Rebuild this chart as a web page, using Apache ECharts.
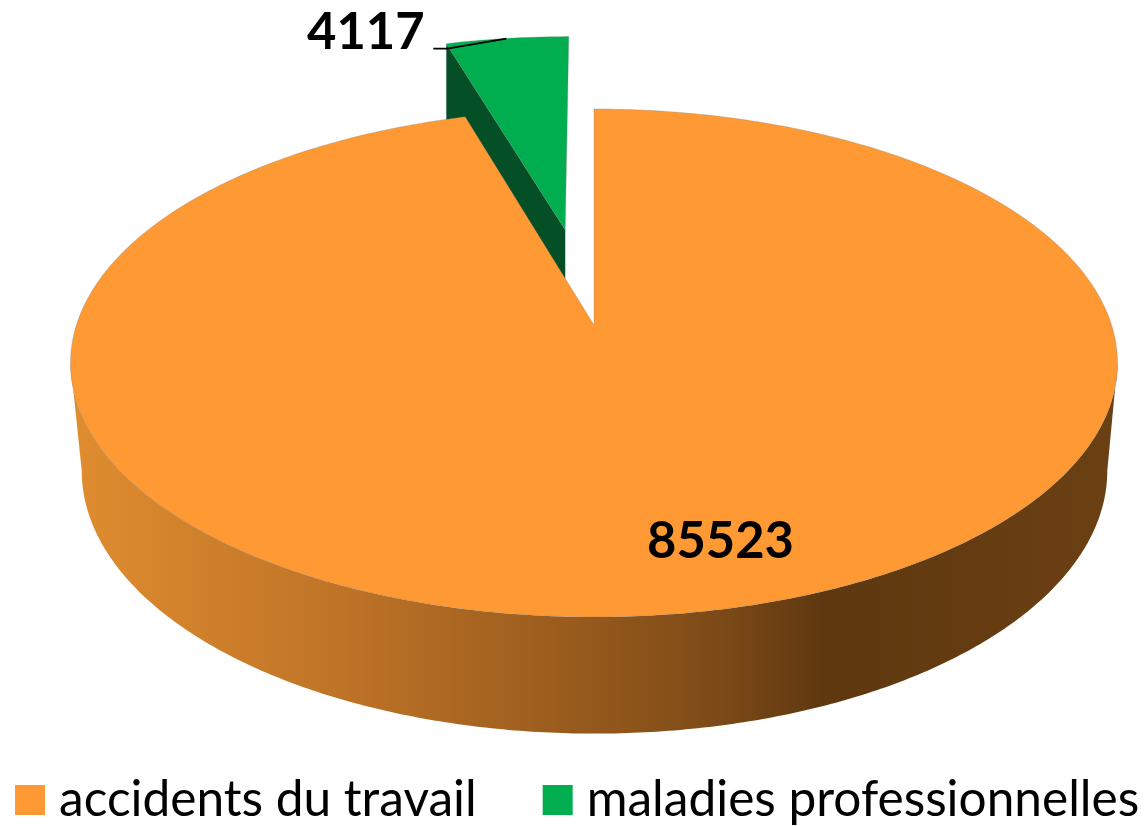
<!DOCTYPE html>
<html>
<head>
<meta charset="utf-8">
<title>accidents du travail / maladies professionnelles</title>
<script src="https://cdn.jsdelivr.net/npm/echarts@6/dist/echarts.min.js"></script>
<style>
  html, body { margin: 0; padding: 0; background: #fff; }
  #main { width: 1148px; height: 826px; }
</style>
</head>
<body>
<div id="main"></div>
<script>
const categories = ["accidents du travail", "maladies professionnelles"];
const values = [85523, 4117];
const explode = [0, 0.41];
const colors = ["#ff9933", "#00ae4f"];
const sideColor = "#054f26";

const total = values[0] + values[1];
const fontName = "Lato, 'Open Sans', sans-serif";

// le disque en perspective : haut et bas du cylindre
const topDisc = { cx: 594, cy: 325, w: 517.6, h: 248.3, k: 0.1496 };
const botDisc = { cx: 594.5, cy: 431.5, w: 507, h: 256.9, k: 0.1496 };

function project(disc, a, r, off) {
  // a = angle horaire depuis midi, off = decalage eclate dans le plan
  const u = r * Math.sin(a) + off[0];
  const v = r * Math.cos(a) + off[1];
  const d = 1 + disc.k * v;
  return [disc.cx + disc.w * u / d, disc.cy - disc.h * v / d];
}

function sliceAngles(idx) {
  // la premiere part commence a midi, sens horaire
  let start = 0;
  for (let i = 0; i < idx; i++) start += values[i] / total * Math.PI * 2;
  return [start, start + values[idx] / total * Math.PI * 2];
}

function arc(disc, a0, a1, off) {
  const pts = [];
  const n = Math.max(2, Math.ceil(Math.abs(a1 - a0) / 0.01));
  for (let i = 0; i <= n; i++) {
    pts.push(project(disc, a0 + (a1 - a0) * i / n, 1, off));
  }
  return pts;
}

function valueLabel(x, y, val) {
  return {
    type: "text",
    x: x,
    y: y,
    scaleX: 0.975,
    style: {
      text: String(val), fill: "#000",
      font: "bold 52px " + fontName, textAlign: "left", textVerticalAlign: "bottom"
    }
  };
}

function renderOrange(params, api) {
  const ang = sliceAngles(0);
  const off = [0, 0];
  const right = Math.acos(-topDisc.k);
  const left = Math.PI * 2 - right;
  const side = arc(topDisc, right, left, off).concat(arc(botDisc, left, right, off));
  const top = [project(topDisc, 0, 0, off)].concat(arc(topDisc, ang[0], ang[1], off));
  return {
    type: "group",
    children: [
      {
        type: "polygon",
        shape: { points: side },
        style: {
          fill: new echarts.graphic.LinearGradient(0, 0, 1, 0, [
            { offset: 0, color: "#e08d2f" },
            { offset: 0.26, color: "#be7327" },
            { offset: 0.47, color: "#9a5c1d" },
            { offset: 0.62, color: "#7c4a17" },
            { offset: 0.72, color: "#5f3810" },
            { offset: 1, color: "#6b4013" }
          ])
        }
      },
      {
        type: "polygon",
        shape: { points: top },
        style: { fill: colors[0], stroke: "rgba(120,120,120,0.35)", lineWidth: 0.8 }
      },
      valueLabel(647, 567, api.value(0))
    ]
  };
}

function renderGreen(params, api) {
  const ang = sliceAngles(1);
  const mid = (ang[0] + ang[1]) / 2;
  const off = [explode[1] * Math.sin(mid), explode[1] * Math.cos(mid)];
  const top = [project(topDisc, 0, 0, off)].concat(arc(topDisc, ang[0], ang[1], off));
  const tip = project(topDisc, ang[0], 1, off);
  const apex = project(topDisc, 0, 0, off);
  const cut = [
    tip,
    apex,
    [apex[0], project(botDisc, 0, 0, off)[1]],
    [tip[0], project(botDisc, ang[0], 1, off)[1]]
  ];
  return {
    type: "group",
    children: [
      { type: "polygon", shape: { points: cut }, style: { fill: sideColor } },
      {
        type: "polygon",
        shape: { points: top },
        style: { fill: colors[1], stroke: "rgba(120,120,120,0.35)", lineWidth: 0.8 }
      },
      {
        type: "polyline",
        shape: { points: [[tip[0] - 13, tip[1] + 5], [tip[0] + 1, tip[1] + 5], [tip[0] + 60, tip[1] - 5]] },
        style: { stroke: "#000", lineWidth: 1.6, fill: "none" }
      },
      valueLabel(307, 58, api.value(0))
    ]
  };
}

const chart = echarts.init(document.getElementById("main"), null, { renderer: "canvas" });
chart.setOption({
  animation: false,
  backgroundColor: "#fff",
  legend: {
    data: categories,
    left: 15,
    top: 775,
    padding: 0,
    itemWidth: 30,
    itemHeight: 30,
    itemGap: 66,
    icon: "rect",
    textStyle: { fontFamily: fontName, fontSize: 49.6, color: "#000", padding: [0, 0, 3, 9] }
  },
  tooltip: { show: false },
  series: [
    {
      name: categories[1],
      type: "custom",
      coordinateSystem: "none",
      itemStyle: { color: colors[1] },
      renderItem: renderGreen,
      data: [values[1]]
    },
    {
      name: categories[0],
      type: "custom",
      coordinateSystem: "none",
      itemStyle: { color: colors[0] },
      renderItem: renderOrange,
      data: [values[0]]
    }
  ]
});
</script>
</body>
</html>
